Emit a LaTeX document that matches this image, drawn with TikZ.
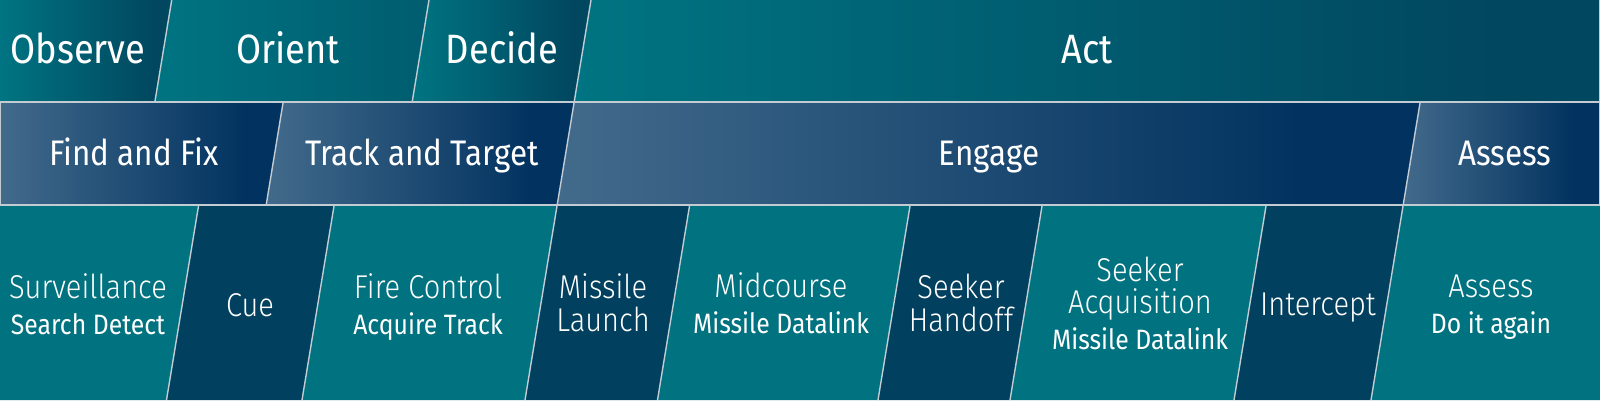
\documentclass[tikz,border=0pt]{standalone}
\usepackage{fontspec}
\setmainfont{Fira Sans}[FakeStretch=0.885]
\newfontfamily\lightfont{Fira Sans Light}[FakeStretch=0.88]
\usetikzlibrary{shadings}
\definecolor{tealA}{HTML}{007482}
\definecolor{tealB}{HTML}{01475F}
\definecolor{tealC}{HTML}{005E70}
\definecolor{blueA}{HTML}{426A8B}
\definecolor{blueB}{HTML}{023360}
\definecolor{teal3}{HTML}{007280}
\definecolor{dark3}{HTML}{01405E}
\definecolor{sepline}{HTML}{C3CCD3}
\pgfdeclarehorizontalshading{rowone}{100bp}{color(0bp)=(tealA); color(25bp)=(tealA); color(70bp)=(tealB); color(100bp)=(tealB)}
\pgfdeclarehorizontalshading{rowonel}{100bp}{color(0bp)=(tealA); color(25bp)=(tealA); color(72bp)=(tealC); color(100bp)=(tealC)}
\pgfdeclarehorizontalshading{rowtwo}{100bp}{color(0bp)=(blueA); color(25bp)=(blueA); color(68bp)=(blueB); color(100bp)=(blueB)}
\def\sl{0.165}
\newcommand\slab[5]{%
  \path[#1] ({min(1600,max(0,#2-\sl*#4))},#4) -- ({min(1600,max(0,#3-\sl*#4))},#4)
    -- ({min(1600,max(0,#3-\sl*#5))},#5) -- ({min(1600,max(0,#2-\sl*#5))},#5) -- cycle;}
\tikzset{
  r1/.style={shade, shading=rowone},
  r1l/.style={shade, shading=rowonel},
  r2/.style={shade, shading=rowtwo},
  c3t/.style={fill=teal3},
  c3d/.style={fill=dark3},
  sep/.style={draw=sepline, line width=1.4pt},
  lab1/.style={text=white, anchor=base, inner sep=0pt, font=\fontsize{41}{41}\selectfont},
  lab2/.style={text=white, anchor=base, inner sep=0pt, font=\fontsize{35.5}{35.5}\selectfont},
  lab3/.style={text=white, anchor=base, inner sep=0pt, font=\lightfont\fontsize{33}{33}\selectfont},
  lab3s/.style={text=white, anchor=base, inner sep=0pt, font=\fontsize{28}{28}\selectfont},
}
\begin{document}
\begin{tikzpicture}[x=1pt,y=-1pt]
\useasboundingbox (0,0) rectangle (1600,400);
% row 1
\slab{r1}{0}{171.7}{0}{102}
\slab{r1l}{171.7}{429}{0}{102}
\slab{r1}{429}{591}{0}{102}
\slab{r1}{591}{2000}{0}{102}
% row 2
\slab{r2}{0}{300}{102}{205}
\slab{r2}{300}{591}{102}{205}
\slab{r2}{591}{1437}{102}{205}
\slab{r2}{1437}{2000}{102}{205}
% row 3
\slab{c3t}{0}{232.5}{205}{400}
\slab{c3d}{232.5}{368}{205}{400}
\slab{c3t}{368}{591}{205}{400}
\slab{c3d}{591}{723.5}{205}{400}
\slab{c3t}{723.5}{944}{205}{400}
\slab{c3d}{944}{1076}{205}{400}
\slab{c3t}{1076}{1300}{205}{400}
\slab{c3d}{1300}{1437}{205}{400}
\slab{c3t}{1437}{2000}{205}{400}
% separators
\draw[sep] (0,102) -- (1600,102);
\draw[sep] (0,205) -- (1600,205);
\draw[sep] (1599.3,0) -- (1599.3,205);
\draw[sep] (0.7,102) -- (0.7,205);
\draw[sep] ({171.7},0) -- ({171.7-\sl*102},102);
\draw[sep] ({429},0) -- ({429-\sl*102},102);
\draw[sep] ({591},0) -- ({591-\sl*400},400);
\draw[sep] ({300-\sl*102},102) -- ({300-\sl*205},205);
\draw[sep] ({1437-\sl*102},102) -- ({1437-\sl*400},400);
\foreach \b in {232.5,368,723.5,944,1076,1300}
  \draw[sep] ({\b-\sl*205},205) -- ({\b-\sl*400},400);
% row 1 labels
\node[lab1] (observe) at (78,63) {Observe};
\node[lab1] (orient) at (288,63) {Orient};
\node[lab1] (decide) at (502,63) {Decide};
\node[lab1] (act) at (1087,63) {Act};
% row 2 labels
\node[lab2] (findfix) at (134,165) {Find and Fix};
\node[lab2] (tracktarget) at (422,165) {Track and Target};
\node[lab2] (engage) at (989,165) {Engage};
\node[lab2] (assess2) at (1505,165) {Assess};
% row 3 labels
\node[lab3] (surv) at (88,298) {Surveillance};
\node[lab3s] (survsub) at (88,334) {Search Detect};
\node[lab3] (cue) at (250,316) {Cue};
\node[lab3] (fire) at (428,298) {Fire Control};
\node[lab3s] (firesub) at (428,334) {Acquire Track};
\node[lab3] (missile) at (603,298) {Missile};
\node[lab3] (launch) at (603,331) {Launch};
\node[lab3] (mid) at (781,297) {Midcourse};
\node[lab3s] (midsub) at (781,333) {Missile Datalink};
\node[lab3] (seeker1) at (961,298) {Seeker};
\node[lab3] (handoff) at (961,331) {Handoff};
\node[lab3] (seeker2) at (1140,281) {Seeker};
\node[lab3] (acq) at (1140,313) {Acquisition};
\node[lab3s] (acqsub) at (1140,349) {Missile Datalink};
\node[lab3] (intercept) at (1318,315) {Intercept};
\node[lab3] (assess3) at (1491,297) {Assess};
\node[lab3s] (assess3sub) at (1491,333) {Do it again};
\end{tikzpicture}
\end{document}
